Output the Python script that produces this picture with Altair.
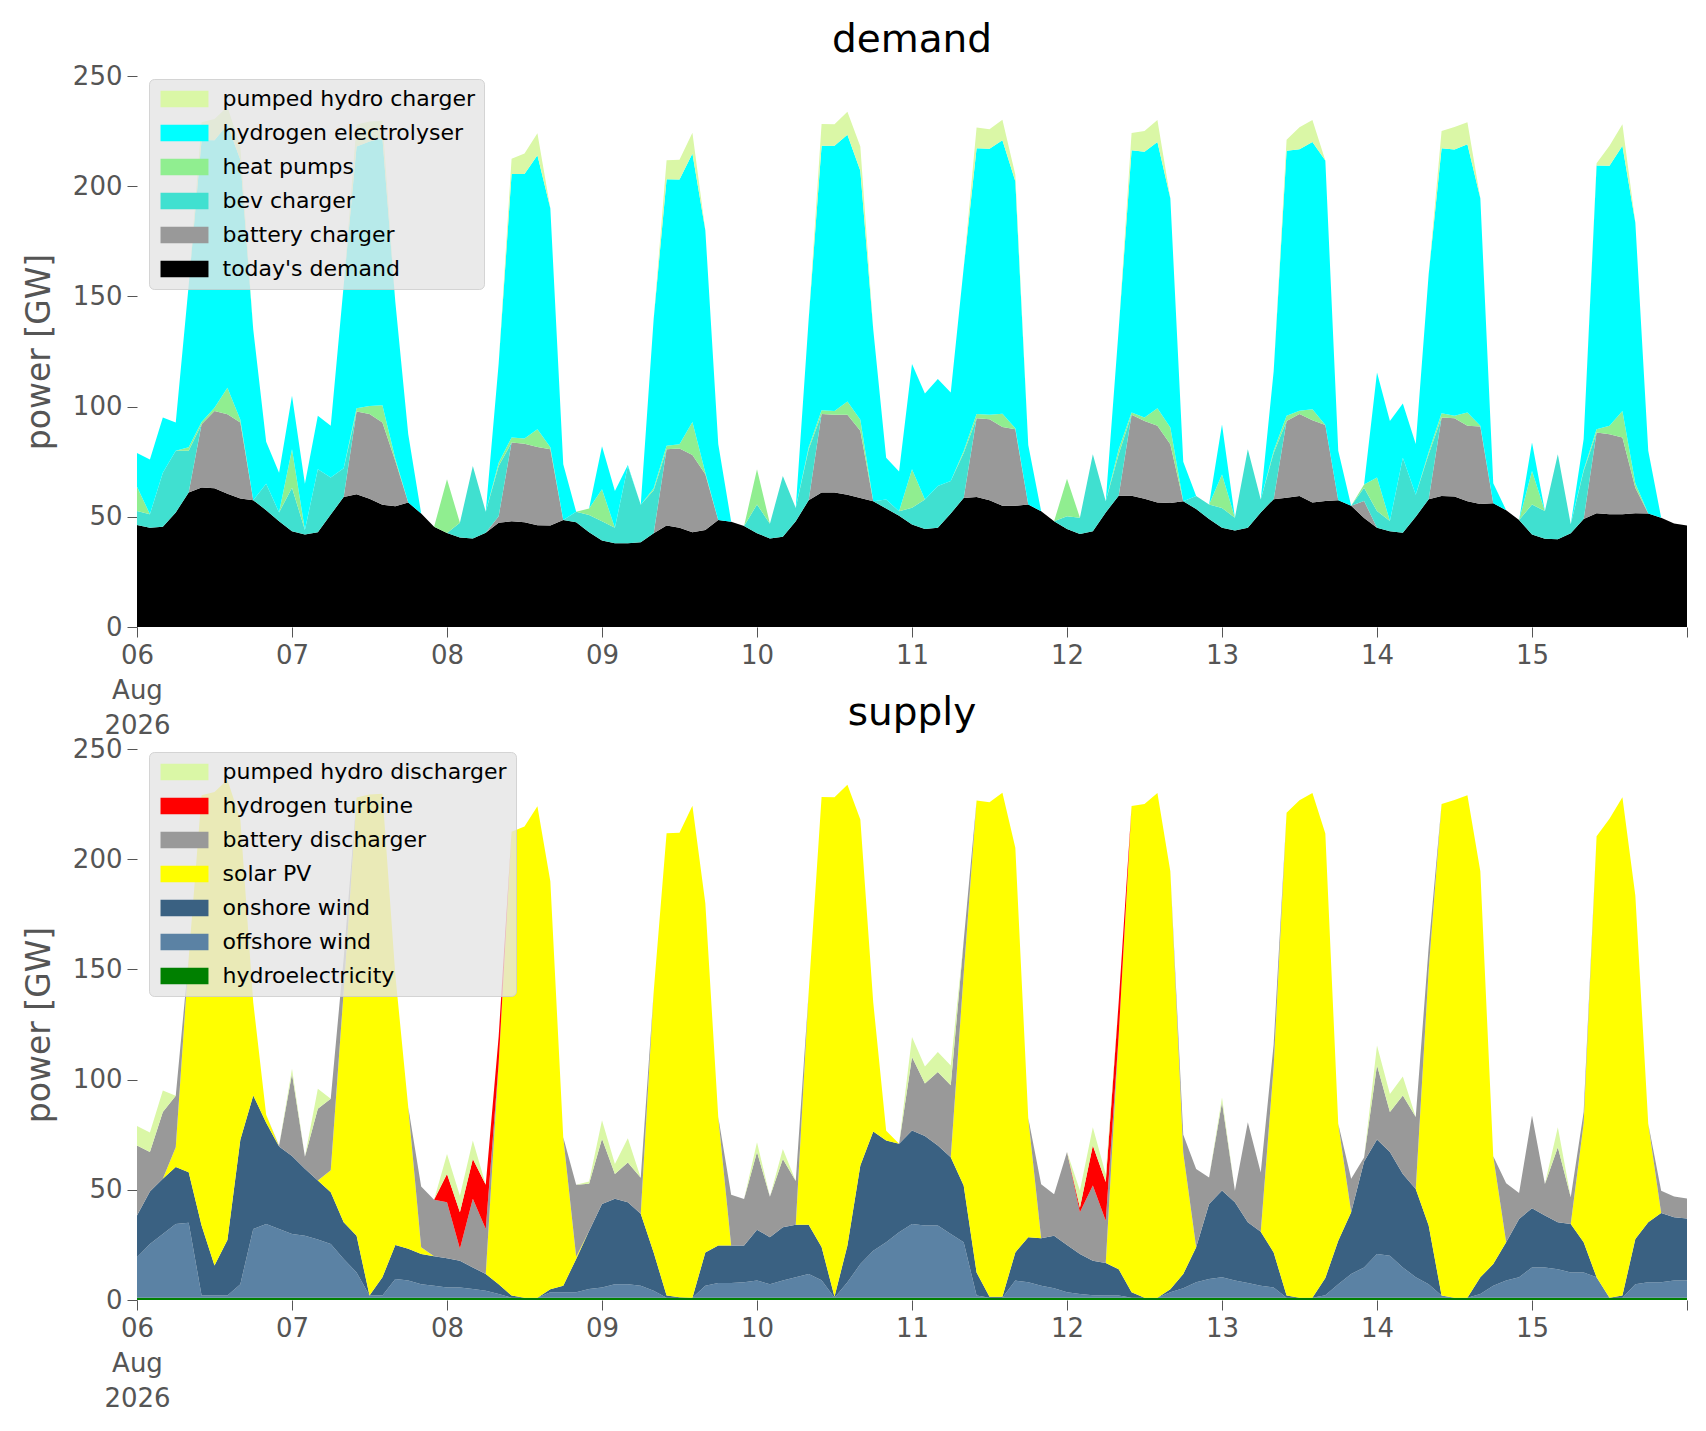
import altair as alt
import pandas as pd

# hours after 06 Aug 2026 00:00, every 2 hours
hours = list(range(0, 241, 2))

# ---- demand side (GW) ----
todays_demand = [
    46.3, 45, 45.5, 52, 61, 63.3, 63, 60.5, 58.3, 57.5, 53, 48,
    43.5, 42, 43, 51, 59, 60.2, 58.2, 55.5, 54.8, 56.5, 51.5, 45.5,
    42.6, 40.6, 40.2, 42.8, 47.3, 48, 47.5, 46.2, 46, 48.5, 47.5, 43,
    39.3, 38, 38, 38.5, 42.5, 46, 45, 43, 44, 48.5, 47.8, 45.8,
    42.5, 40.2, 41, 48, 57.5, 61, 61, 60, 58.5, 57, 53.8, 50.5,
    46.5, 44.5, 45, 51.5, 58.5, 59, 57.5, 55, 55, 55.6, 52.5, 48,
    44.5, 42.2, 43.5, 52, 59.5, 59.5, 58.2, 56.5, 56.3, 57, 53.5, 49,
    45, 43.8, 45, 52, 58, 58.7, 59.4, 56.5, 57.2, 57.5, 55, 49.5,
    45, 43.4, 42.8, 50, 58, 59.4, 59.2, 57, 55.8, 56.2, 53, 48.5,
    42, 40, 39.8, 42.5, 49, 51.6, 51.2, 51.2, 51.6, 51.5, 49.6, 47,
    46,
]
battery_charger = [
    0, 0, 0, 0, 0, 28.7, 35, 36, 34.5, 0, 0, 0,
    0, 0, 0, 0, 0, 37.6, 38.4, 37.3, 20.5, 0, 0, 0,
    0, 0, 0, 0, 3, 35.7, 35.7, 35.5, 34.6, 0, 0, 0,
    0, 0, 0, 0, 0, 34.6, 36, 35, 25.3, 0, 0, 0,
    0, 0, 0, 0, 0, 35.6, 35.3, 36.3, 30.5, 0, 0, 0,
    0, 0, 0, 0, 0, 35.7, 36.8, 35.8, 34.7, 0, 0, 0,
    0, 0, 0, 0, 0, 36.8, 35.3, 34.8, 26.6, 0, 0, 0,
    0, 0, 0, 0, 0, 34.8, 37.2, 37.3, 34.4, 0, 0, 7.7,
    0, 0, 0, 0, 0, 35.6, 35.5, 34.3, 35.2, 0, 0, 0,
    0, 0, 0, 0, 0, 36.6, 36.3, 34.8, 11.6, 0, 0, 0,
    0,
]
bev_charger = [
    6.3, 6.2, 24.5, 28, 19, 0, 0, 0, 0, 0, 12, 4,
    19.7, 2, 28.6, 16.8, 13, 0, 0, 0, 0, 0, 0, 0,
    0, 6.7, 32.9, 9.5, 22.7, 0, 0, 0, 0, 0, 4.8, 7.8,
    8.7, 7, 35, 17, 19.5, 0, 0, 0, 0, 0, 0, 0,
    13.1, 6.7, 27.5, 6, 23.1, 0, 0, 0, 0, 0, 4, 2,
    7.6, 13.4, 19, 14.7, 20.4, 0, 0, 0, 0, 0, 0, 0,
    5.8, 7.4, 34.9, 5, 18.9, 0, 0, 0, 0, 0, 5.9, 6.6,
    9, 5.8, 35.6, 5.9, 21, 0, 0, 0, 0, 0, 0, 6,
    7.6, 4.7, 34, 10, 20.4, 0, 0, 0, 0, 0, 0, 0,
    13.6, 12.6, 38.6, 4.1, 21.8, 0, 0, 0, 0, 0, 0, 0,
    0,
]
heat_pumps = [
    11, 0, 0, 0, 1.5, 1, 1.5, 12, 1.2, 0, 0, 0,
    17.4, 0, 0, 0, 0, 1.5, 3.7, 7.8, 1, 0, 0, 0,
    24.4, 0, 0, 0, 1.5, 2.3, 2.3, 8, 1, 0, 0, 3,
    14.5, 0, 0, 0, 1, 1.6, 1.9, 15, 0.7, 0, 0, 0,
    16, 0, 0, 0, 1, 1.8, 1.7, 6, 5, 0, 0, 0,
    17.5, 0, 0, 0, 1, 1.9, 2, 6, 0.5, 0, 0, 0,
    17, 0, 0, 0, 2.2, 1, 1.5, 8, 7.6, 0, 0, 0,
    15.2, 0, 0, 0, 1, 2.3, 1.5, 5, 0, 0, 0, 1.5,
    15.2, 0, 0, 0, 1, 2, 1.1, 6, 0.3, 0, 0, 0,
    15.2, 0, 0, 0, 0.5, 1.5, 3.8, 12, 2, 0, 0, 0,
    0,
]
hydrogen_electrolyser = [
    15.4, 24.8, 25, 12.8, 73.5, 128, 121.3, 119.5, 118, 77.5, 19, 18,
    24.3, 21, 24.2, 23.5, 83, 118.7, 120, 121.3, 71.2, 31, 0, 0,
    0, 0, 0, 0, 45, 119.5, 120, 124.3, 108.4, 25.3, 0, 0,
    19.5, 16.7, 0.5, 0, 76.7, 121, 120.1, 121.8, 110, 34.5, 0, 0,
    0, 0, 0, 0, 58, 120, 120.3, 121, 113, 78, 19, 18,
    47.7, 48, 48.5, 40.2, 83, 120.6, 120.7, 124, 112, 27, 0, 0,
    0, 0, 0, 0, 54.4, 119, 120.6, 120.7, 104, 18, 0, 0,
    22.7, 0, 0, 0, 36, 120.3, 118.7, 121.2, 120.1, 22.5, 0, 0,
    47.7, 45.4, 24.6, 23, 80.6, 120.2, 120.9, 121.7, 103.2, 9, 0, 0,
    12.9, 0, 0, 0, 14, 119.7, 118, 120.3, 118.3, 28.5, 0, 0,
    0,
]
pumped_hydro_charger = [
    0, 0, 0, 0, 0, 8, 9.7, 8, 6, 0, 0, 0,
    0, 0, 0, 0, 0, 10, 9, 7.8, 0, 0, 0, 0,
    0, 0, 0, 0, 0, 7, 9.3, 10, 0, 0, 0, 0,
    0, 0, 0, 0, 0, 8.6, 9, 9.4, 0, 0, 0, 0,
    0, 0, 0, 0, 0, 9.8, 9.8, 10.5, 11, 0, 0, 0,
    0, 0, 0, 0, 0, 9.4, 8.8, 9.4, 3, 0, 0, 0,
    0, 0, 0, 0, 0, 7.8, 9.4, 10, 0, 0, 0, 0,
    0, 0, 0, 0, 0, 5, 9.9, 10, 0, 0, 0, 0,
    0, 0, 0, 0, 0, 7.8, 10.2, 10, 0, 0, 0, 0,
    0, 0, 0, 0, 0, 1, 9, 9.8, 0, 0, 0, 0,
    0,
]

# ---- supply side (GW) ----
hydroelectricity = [
    1, 1, 1, 1, 1, 1, 1, 1, 1, 1, 1, 1,
    1, 1, 1, 1, 1, 1, 1, 1, 1, 1, 1, 1,
    1, 1, 1, 1, 1, 1, 1, 1, 1, 1, 1, 1,
    1, 1, 1, 1, 1, 1, 1, 1, 1, 1, 1, 1,
    1, 1, 1, 1, 1, 1, 1, 1, 1, 1, 1, 1,
    1, 1, 1, 1, 1, 1, 1, 1, 1, 1, 1, 1,
    1, 1, 1, 1, 1, 1, 1, 1, 1, 1, 1, 1,
    1, 1, 1, 1, 1, 1, 1, 1, 1, 1, 1, 1,
    1, 1, 1, 1, 1, 1, 1, 1, 1, 1, 1, 1,
    1, 1, 1, 1, 1, 1, 1, 1, 1, 1, 1, 1,
    1,
]
offshore_wind = [
    18.4, 24.4, 29, 33.5, 34, 1, 1, 1, 6.2, 31.2, 33.5, 31.2,
    29, 28.2, 26.4, 24.4, 17.6, 11.5, 1, 1, 8.5, 7.8, 6.2, 5.5,
    4.7, 4.7, 4, 3.2, 1.7, 0, 0, 0, 2.5, 2.5, 2.5, 4,
    4.7, 6.2, 6.2, 5.5, 3.2, 0, 0, 0, 5.5, 6.7, 6.7, 7,
    7.8, 6.2, 7.8, 9.3, 10.8, 8, 0, 7, 15.3, 21.4, 25.2, 29.7,
    33.5, 32.8, 32.8, 29, 25.2, 1, 0, 0, 7.8, 7, 5.5, 4.3,
    2.5, 1.7, 1.2, 1, 1, 0, 0, 0, 2.5, 4.3, 7, 8.5,
    9.3, 7.8, 6.7, 5.5, 4.7, 0, 0, 0, 1.2, 6.2, 10.8, 13.8,
    19.9, 19.1, 13.8, 9.3, 6.2, 1, 0, 0, 1.7, 5.5, 7.8, 9.3,
    13.8, 13.8, 13, 11.5, 11.5, 9.3, 0, 0, 6.2, 7, 7, 7.8,
    7.8,
]
onshore_wind = [
    18.9, 23.8, 25, 25.8, 23, 31.8, 13.6, 25.2, 65.5, 60.6, 45.9, 37.5,
    35.3, 30.3, 26.8, 23.5, 16.7, 16.7, 0, 8.3, 15.5, 14.4, 13.7, 13.3,
    13.2, 12.1, 9.8, 7.6, 4.5, 1, 0, 0, 1.4, 3, 15.1, 26.3,
    37.9, 38.7, 37.2, 32.6, 17.4, 1, 0.2, 0, 15.1, 17, 17, 16.7,
    23.1, 21.3, 24.2, 23.8, 22.3, 15, 0.5, 16.7, 44.7, 54.1, 46.2, 40.2,
    42.4, 40.6, 36.3, 34.8, 25.7, 10.5, 0.5, 0.5, 12.8, 20.5, 21.5, 23.9,
    21.5, 18.2, 15.6, 14.8, 12, 2.5, 0, 0, 1.4, 6.5, 15.9, 34.1,
    39.4, 35.6, 27.6, 24.5, 15.9, 1, 0, 0, 7.8, 19.7, 28, 48,
    51.9, 47, 42.4, 40.1, 26.6, 0, 0, 0, 7.6, 9.8, 17.4, 26.5,
    26.8, 23.5, 21.3, 22, 13.7, 0, 0, 1, 20.5, 27.3, 31.5, 28.7,
    28.2,
]
solar_pv = [
    0, 0, 0, 9, 97, 195.2, 214.9, 208.8, 145.3, 42.2, 3.6, 0,
    0, 0, 0, 10, 104.7, 198.8, 227.3, 219.4, 122.5, 64.3, 3, 0,
    0, 0, 0, 0, 100.3, 210.5, 213.8, 223, 185.1, 67.3, 1, 0,
    0, 0, 0, 0, 118.1, 209.8, 210.8, 223.2, 158.4, 58.3, 0, 0,
    0, 0, 0, 0, 105.5, 204.2, 226.6, 209.1, 157, 58.5, 4.4, 0,
    0, 0, 0, 0, 96, 214.1, 224.3, 228.7, 183.6, 54.1, 0, 0,
    0, 0, 0, 0, 106, 220.6, 224, 229, 189.6, 55, 0, 0,
    0, 0, 0, 0, 84.4, 219.1, 225.7, 229, 201.7, 53.1, 0, 0,
    0, 0, 0, 0, 116.2, 223, 225.9, 228, 184.2, 48.9, 0, 0,
    0, 0, 0, 0, 54.1, 200.1, 217.3, 226.1, 155.8, 44.7, 0, 0,
    0,
]
battery_discharger = [
    31.8, 17.9, 30.3, 23.4, 0, 0, 0, 0, 0, 0, 0, 0.3,
    37.4, 5.5, 32.6, 32.4, 15, 0, 0, 0, 0, 0, 27.6, 25.7,
    25.5, 5.4, 31.1, 20.4, 0, 0, 0, 0, 0, 0, 32.7, 21.4,
    29.6, 11.3, 18, 16.4, 0, 0, 0, 0, 0, 0, 23.1, 21.1,
    35.2, 18.4, 31, 19.9, 0, 0, 0, 0, 0, 0, 0, 0,
    33.4, 23.8, 33.4, 32.6, 15, 0, 0, 0, 0, 0, 24.5, 18.8,
    42.1, 18.9, 34.2, 19.2, 0, 0, 0, 0, 0, 8.2, 35.5, 12,
    40, 5.2, 45.3, 26.9, 10, 0, 0, 0, 0, 0, 15.2, 1.9,
    33.7, 18.2, 35.6, 32.6, 10, 0, 0, 0, 0, 0, 26.8, 11.7,
    42.1, 14.3, 34, 12.1, 5, 0, 0, 0, 0, 0, 10.1, 9.5,
    9,
]
hydrogen_turbine = [
    0, 0, 0, 0, 0, 0, 0, 0, 0, 0, 0, 0,
    0, 0, 0, 0, 0, 0, 0, 0, 0, 0, 0, 0,
    12.8, 16.6, 18.1, 20.1, 12, 0, 0, 0, 0, 0, 0, 0,
    0, 0, 0, 0, 0, 0, 0, 0, 0, 0, 0, 0,
    0, 0, 0, 0, 0, 0, 0, 0, 0, 0, 0, 0,
    0, 0, 0, 0, 0, 0, 0, 0, 0, 0, 0, 0,
    0, 2, 18.1, 17.5, 15, 0, 0, 0, 0, 0, 0, 0,
    0, 0, 0, 0, 0, 0, 0, 0, 0, 0, 0, 0,
    0, 0, 0, 0, 0, 0, 0, 0, 0, 0, 0, 0,
    0, 0, 0, 0, 0, 0, 0, 0, 0, 0, 0, 0,
    0,
]
pumped_hydro_discharger = [
    8.9, 8.9, 9.7, 0, 0, 0, 0, 0, 0, 0, 0, 0,
    2.2, 0, 9, 0, 0, 0, 0, 0, 0, 0, 0, 0,
    9.1, 7.5, 8.4, 0, 0, 0, 0, 0, 0, 0, 0, 1.1,
    8.3, 4.5, 11, 0, 0, 0, 0, 0, 0, 0, 0, 0,
    4.5, 0, 4.5, 0, 0, 0, 0, 0, 0, 0, 0, 0,
    9, 7.7, 9, 9, 0, 0, 0, 0, 0, 0, 0, 0,
    0, 7.9, 8.3, 3.5, 0, 0, 0, 0, 0, 0, 0, 0,
    2.2, 0, 0, 0, 0, 0, 0, 0, 0, 0, 0, 0,
    9, 8.2, 8.6, 0, 0, 0, 0, 0, 0, 0, 0, 0,
    0, 0, 9.1, 0, 0, 0, 0, 0, 0, 0, 0, 0,
    0,
]

# stacking order, bottom to top
demand = [
    ("today's demand", todays_demand, "#000000"),
    ("battery charger", battery_charger, "#999999"),
    ("bev charger", bev_charger, "#40e0d0"),
    ("heat pumps", heat_pumps, "#90ee90"),
    ("hydrogen electrolyser", hydrogen_electrolyser, "#00ffff"),
    ("pumped hydro charger", pumped_hydro_charger, "#daf7a6"),
]
supply = [
    ("hydroelectricity", hydroelectricity, "#008000"),
    ("offshore wind", offshore_wind, "#5b82a4"),
    ("onshore wind", onshore_wind, "#3a6182"),
    ("solar PV", solar_pv, "#ffff00"),
    ("battery discharger", battery_discharger, "#999999"),
    ("hydrogen turbine", hydrogen_turbine, "#ff0000"),
    ("pumped hydro discharger", pumped_hydro_discharger, "#daf7a6"),
]

FONT = "DejaVu Sans"
day_labels = ("datum.value == 0 ? ['06', 'Aug', '2026'] : datum.value >= 240 ? '' : "
              "(6 + datum.value / 24 < 10 ? '0' : '') + (6 + datum.value / 24)")
# wide flat legend swatch; layout size stays small so rows keep their spacing
swatch = "M-2.82,-0.96L2.82,-0.96L2.82,0.96L-2.82,0.96Z"


def panel(series, title):
    rows = []
    for i, (name, vals, _) in enumerate(series):
        for h, v in zip(hours, vals):
            rows.append({"hour": h, "power": v, "source": name, "level": i})
    df = pd.DataFrame(rows)
    names = [s[0] for s in series][::-1]
    colors = [s[2] for s in series][::-1]
    return alt.Chart(df, title=alt.TitleParams(title, offset=3)).mark_area(opacity=1).encode(
        x=alt.X("hour:Q", scale=alt.Scale(domain=[0, 240], nice=False, zero=False),
                axis=alt.Axis(values=list(range(0, 241, 24)), labelExpr=day_labels,
                              title=None, labelLineHeight=35)),
        y=alt.Y("power:Q", stack="zero", scale=alt.Scale(domain=[0, 250], nice=False),
                axis=alt.Axis(values=[0, 50, 100, 150, 200, 250], title="power [GW]")),
        color=alt.Color("source:N", scale=alt.Scale(domain=names, range=colors),
                        legend=alt.Legend(title=None, orient="none", legendX=12, legendY=3,
                                          symbolType=swatch, symbolSize=289,
                                          symbolOffset=15.5, labelOffset=27,
                                          symbolStrokeWidth=0, labelLimit=0, zindex=1)),
        order=alt.Order("level:Q", sort="ascending"),
    ).properties(width=1550, height=551)


chart = alt.vconcat(
    panel(demand, "demand"), panel(supply, "supply"), spacing=122, bounds="flush"
).resolve_scale(color="independent").properties(
    padding={"left": 15, "top": 13, "right": 5, "bottom": 5}
).configure_view(stroke=None).configure_axis(
    labelFont=FONT, labelFontSize=26, labelColor="#555555", tickColor="#555555",
    tickSize=10, labelPadding=5, domain=False, grid=False, labelFlush=False,
    labelOverlap=False, titleFont=FONT, titleFontSize=33, titleColor="#555555",
    titleFontWeight="normal", titlePadding=16,
).configure_title(
    font=FONT, fontSize=39, fontWeight="normal", color="black", anchor="middle",
).configure_legend(
    fillColor="rgba(229,229,229,0.8)", strokeColor="rgba(204,204,204,0.8)",
    cornerRadius=5, padding=9, labelFont=FONT, labelFontSize=22, labelColor="black",
    rowPadding=12,
)

chart.save("out.html", embed_options={"renderer": "svg", "actions": False})
